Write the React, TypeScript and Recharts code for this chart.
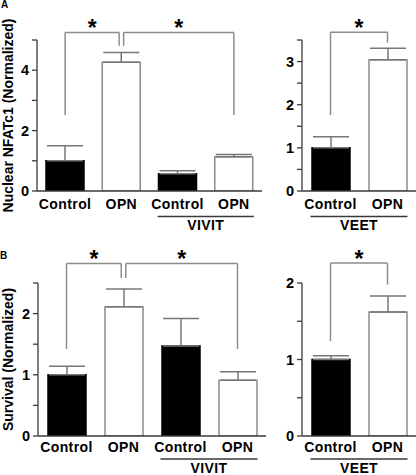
import React from 'react'
import { BarChart, Bar, XAxis, YAxis, ErrorBar, Cell, ReferenceLine, ReferenceDot } from 'recharts'

// panel A: nuclear NFATc1
const nfatLabels = ['Control', 'OPN', 'Control', 'OPN']
const nfatGroups = ['', '', 'VIVIT', 'VIVIT']
const nfatMeans = [1.0, 4.26, 0.57, 1.13]
const nfatErr = [0.5, 0.33, 0.1, 0.08]

const nfatVeetLabels = ['Control', 'OPN']
const nfatVeetGroups = ['VEET', 'VEET']
const nfatVeetMeans = [1.0, 3.04]
const nfatVeetErr = [0.26, 0.27]

// panel B: survival
const survLabels = ['Control', 'OPN', 'Control', 'OPN']
const survGroups = ['', '', 'VIVIT', 'VIVIT']
const survMeans = [1.0, 2.11, 1.47, 0.91]
const survErr = [0.14, 0.29, 0.45, 0.14]

const survVeetLabels = ['Control', 'OPN']
const survVeetGroups = ['VEET', 'VEET']
const survVeetMeans = [1.0, 1.62]
const survVeetErr = [0.05, 0.21]

const FONT = '"Liberation Sans", Arial, sans-serif'
const AXIS = '#3a3a3a'
const GRAY = '#8c8c8c'

type Bracket = { from: number; to: number; top: number; dropFrom: number; dropTo: number }

function buildRows(labels: string[], means: number[], errs: number[]) {
  return labels.map((label, i) => ({
    key: `${label}-${i}`,
    pos: i,
    label,
    mean: means[i],
    err: [0, errs[i]],
    opn: label === 'OPN',
  }))
}

function YTitle(props: any) {
  const { viewBox, text } = props
  const cx = 8
  const cy = viewBox.y + viewBox.height / 2
  return (
    <text
      x={cx}
      y={cy}
      transform={`rotate(-90, ${cx}, ${cy})`}
      textAnchor="middle"
      dominantBaseline="central"
      fontFamily={FONT}
      fontWeight="bold"
      fontSize={14}
      fill="#000"
    >
      {text}
    </text>
  )
}

function CatTick(props: any) {
  const { x, y, index, labels, groups, band, off } = props
  const g = groups[index]
  const first = g && (index === 0 || groups[index - 1] !== g)
  let size = 0
  if (first) {
    for (let j = index; j < groups.length && groups[j] === g; j++) size++
  }
  const span = band * (size - 1)
  const txt = { fontFamily: FONT, fontWeight: 'bold', fontSize: 14, letterSpacing: 0.4, fill: '#000' } as const
  return (
    <g>
      <text x={x} y={y + off[0]} textAnchor="middle" {...txt}>
        {labels[index]}
      </text>
      {first ? (
        <>
          <line x1={x - 20} x2={x + span + 20} y1={y + off[1]} y2={y + off[1]} stroke={AXIS} strokeWidth={1.3} />
          <text x={x + span / 2} y={y + off[2]} textAnchor="middle" {...txt}>
            {g}
          </text>
        </>
      ) : null}
    </g>
  )
}

type PanelProps = {
  left: number
  top: number
  width: number
  height: number
  marginTop: number
  axisWidth: number
  xAxisHeight: number
  labels: string[]
  groups: string[]
  means: number[]
  errs: number[]
  domainMax: number
  ticks: number[]
  showTick: (v: number) => boolean
  brackets: Bracket[]
  title?: string
  off: number[]
}

function Panel(p: PanelProps) {
  const rows = buildRows(p.labels, p.means, p.errs)
  const n = rows.length
  const band = (p.width - p.axisWidth) / n
  const tickStyle = { fontFamily: FONT, fontWeight: 'bold', fontSize: 14.5, fill: '#000' }
  return (
    <div style={{ position: 'absolute', left: p.left, top: p.top }}>
      <BarChart
        width={p.width}
        height={p.height}
        data={rows}
        margin={{ top: p.marginTop, right: 0, bottom: 0, left: 0 }}
        barSize={38}
      >
        <XAxis
          dataKey="key"
          type="category"
          height={p.xAxisHeight}
          axisLine={{ stroke: AXIS, strokeWidth: 1.3 }}
          tickLine={false}
          tickSize={0}
          tickMargin={0}
          interval={0}
          tick={(t: any) => <CatTick {...t} labels={p.labels} groups={p.groups} band={band} off={p.off} />}
        />
        <XAxis
          xAxisId="num"
          dataKey="pos"
          type="number"
          domain={[-0.5, n - 0.5]}
          allowDataOverflow
          hide
        />
        <YAxis
          type="number"
          width={p.axisWidth}
          domain={[0, p.domainMax]}
          ticks={p.ticks}
          interval={0}
          allowDataOverflow
          axisLine={{ stroke: AXIS, strokeWidth: 1.3 }}
          tickLine={{ stroke: AXIS, strokeWidth: 1.3 }}
          tickSize={5}
          tickMargin={3}
          tick={tickStyle}
          tickFormatter={(v: number) => (p.showTick(v) ? String(v) : '')}
          label={p.title ? <YTitle text={p.title} /> : undefined}
        />
        <Bar dataKey="mean" isAnimationActive={false}>
          {rows.map((r) => (
            <Cell key={r.key} fill={r.opn ? '#fff' : '#000'} stroke={r.opn ? GRAY : '#000'} strokeWidth={1.5} />
          ))}
          <ErrorBar dataKey="err" width={18} stroke="#777" strokeWidth={1.5} direction="y" isAnimationActive={false} />
        </Bar>
        {p.brackets.flatMap((b, i) => [
          <ReferenceLine
            key={`h${i}`}
            xAxisId="num"
            ifOverflow="visible"
            stroke={GRAY}
            strokeWidth={1.5}
            segment={[{ x: b.from, y: b.top }, { x: b.to, y: b.top }]}
          />,
          <ReferenceLine
            key={`l${i}`}
            xAxisId="num"
            ifOverflow="visible"
            stroke={GRAY}
            strokeWidth={1.5}
            segment={[{ x: b.from, y: b.top }, { x: b.from, y: b.dropFrom }]}
          />,
          <ReferenceLine
            key={`r${i}`}
            xAxisId="num"
            ifOverflow="visible"
            stroke={GRAY}
            strokeWidth={1.5}
            segment={[{ x: b.to, y: b.top }, { x: b.to, y: b.dropTo }]}
          />,
          <ReferenceDot
            key={`s${i}`}
            xAxisId="num"
            x={(b.from + b.to) / 2}
            y={b.top}
            r={0}
            ifOverflow="visible"
            shape={(s: any) => (
              <text x={s.cx} y={s.cy + 4} textAnchor="middle" fontFamily={FONT} fontWeight="bold" fontSize={23} fill="#000">
                *
              </text>
            )}
          />,
        ])}
      </BarChart>
    </div>
  )
}

export default function App() {
  const letter: React.CSSProperties = {
    position: 'absolute',
    fontFamily: FONT,
    fontWeight: 'bold',
    fontSize: 10,
    lineHeight: '10px',
  }
  return (
    <div style={{ position: 'absolute', left: 0, top: 0, width: 416, height: 475, background: '#fff', overflow: 'hidden' }}>
      <div style={{ ...letter, left: 1, top: 0 }}>A</div>
      <div style={{ ...letter, left: 0, top: 251 }}>B</div>
      <Panel
        left={0}
        top={0}
        width={262}
        height={236}
        marginTop={40}
        axisWidth={37}
        xAxisHeight={45}
        labels={nfatLabels}
        groups={nfatGroups}
        means={nfatMeans}
        errs={nfatErr}
        domainMax={5}
        ticks={[0, 1, 2, 3, 4, 5]}
        showTick={(v) => v % 2 === 0}
        brackets={[
          { from: 0, to: 0.96, top: 5.25, dropFrom: 2.52, dropTo: 4.81 },
          { from: 1.04, to: 3, top: 5.25, dropFrom: 4.81, dropTo: 2.52 },
        ]}
        title="Nuclear NFATc1 (Normalized)"
        off={[18, 25.5, 39]}
      />
      <Panel
        left={265}
        top={0}
        width={151}
        height={236}
        marginTop={40}
        axisWidth={37}
        xAxisHeight={45}
        labels={nfatVeetLabels}
        groups={nfatVeetGroups}
        means={nfatVeetMeans}
        errs={nfatVeetErr}
        domainMax={3.5}
        ticks={[0, 0.5, 1, 1.5, 2, 2.5, 3, 3.5]}
        showTick={(v) => Number.isInteger(v)}
        brackets={[{ from: 0, to: 1, top: 3.68, dropFrom: 1.76, dropTo: 3.44 }]}
        off={[18, 25.5, 39]}
      />
      <Panel
        left={0}
        top={240}
        width={266}
        height={235}
        marginTop={43}
        axisWidth={38}
        xAxisHeight={39}
        labels={survLabels}
        groups={survGroups}
        means={survMeans}
        errs={survErr}
        domainMax={2.5}
        ticks={[0, 0.5, 1, 1.5, 2, 2.5]}
        showTick={(v) => Number.isInteger(v)}
        brackets={[
          { from: 0, to: 0.96, top: 2.82, dropFrom: 1.42, dropTo: 2.58 },
          { from: 1.04, to: 3, top: 2.82, dropFrom: 2.58, dropTo: 1.42 },
        ]}
        title="Survival (Normalized)"
        off={[16, 23, 37]}
      />
      <Panel
        left={265}
        top={240}
        width={151}
        height={235}
        marginTop={43}
        axisWidth={37}
        xAxisHeight={39}
        labels={survVeetLabels}
        groups={survVeetGroups}
        means={survVeetMeans}
        errs={survVeetErr}
        domainMax={2}
        ticks={[0, 0.5, 1, 1.5, 2]}
        showTick={(v) => Number.isInteger(v)}
        brackets={[{ from: 0, to: 1, top: 2.26, dropFrom: 1.24, dropTo: 1.98 }]}
        off={[16, 23, 37]}
      />
    </div>
  )
}
